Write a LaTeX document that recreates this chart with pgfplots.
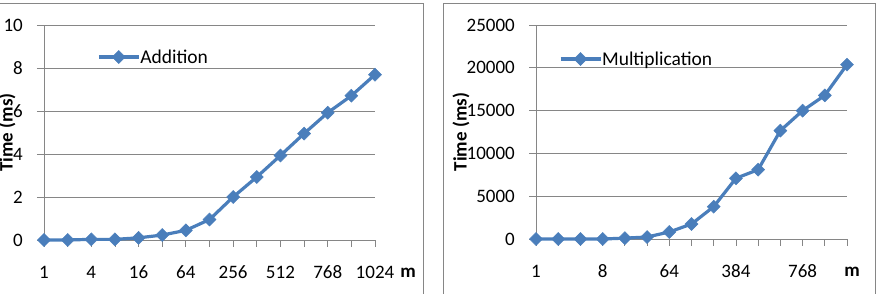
\documentclass[border=0pt]{standalone}
\usepackage{pgfplots}
\usepackage{pgfplotstable}
\pgfplotsset{compat=1.18}
\usepackage{fontspec}
\setmainfont{Carlito}
\definecolor{lineblue}{RGB}{74,126,187}
\definecolor{gridgray}{RGB}{134,134,134}
\definecolor{framegray}{RGB}{134,134,134}

\pgfplotstableread{
idx m t
0 1 0
1 2 0.0
2 4 0.03
3 8 0.03
4 16 0.1
5 32 0.23
6 64 0.45
7 128 0.95
8 256 2.0
9 384 2.93
10 512 3.93
11 640 4.95
12 768 5.92
13 896 6.71
14 1024 7.69
}\addtable

\pgfplotstableread{
idx m t
0 1 0
1 2 0
2 4 0
3 8 0
4 16 100
5 32 230
6 64 820
7 128 1750
8 256 3780
9 384 7090
10 512 8100
11 640 12660
12 768 14990
13 896 16780
14 1024 20370
}\multable

\pgfplotsset{
  myline/.style={color=lineblue, line width=3.2bp, mark=square*,
      mark size=4.6bp, mark options={rotate=45, fill=lineblue, draw=lineblue, line width=0.5bp}},
  mystyle/.style={
    scale only axis,
    clip=false,
    axis x line=bottom, axis y line=left,
    axis line style={-, draw=gridgray, line width=0.8bp},
    tick align=outside,
    major tick length=7bp,
    tick style={draw=gridgray, line width=0.8bp},
    ymajorgrids,
    grid style={draw=gridgray, line width=0.8bp},
    xmin=0, xmax=14, ymin=0,
    enlargelimits=false,
    xtick={0,...,14},
    scaled y ticks=false,
    ticklabel style={font=\fontsize{19bp}{22bp}\selectfont, inner sep=0pt},
    /pgf/number format/assume math mode=true,
    xticklabel style={anchor=base},
    xticklabel shift=31bp,
    yticklabel shift=14bp,
    legend style={draw=none, fill=none, inner sep=0pt, anchor=west,
      font=\fontsize{19.5bp}{22bp}\selectfont, nodes={inner sep=0pt},
      /tikz/every even column/.append style={column sep=0pt}},
    legend cell align=left,
    legend image code/.code={\draw[mark repeat=2,mark phase=2] plot coordinates {(0bp,0bp) (20bp,0bp) (40bp,0bp)};},
  }
}

\begin{document}
\begin{tikzpicture}
\useasboundingbox (0bp,0bp) rectangle (876bp,294bp);
\draw[framegray, line width=1bp] (-5bp,290bp) -- (423.5bp,290bp) -- (423.5bp,-5bp);
\draw[framegray, line width=1bp] (443.5bp,-5bp) -- (443.5bp,290bp) -- (875bp,290bp) -- (875bp,-5bp);

\begin{axis}[mystyle,
  at={(44bp,54bp)}, anchor=south west,
  width=331bp, height=215bp,
  ymax=10, ytick={0,2,...,10},
  xticklabels={1,,4,,16,,64,,256,,512,,768,,1024},
  legend style={at={(axis description cs:0.16,0.851)}},
]
\addplot[myline] table[x=idx, y=t] {\addtable};
\addlegendentry{Addition}
\node[anchor=base, font=\fontsize{19bp}{22bp}\selectfont\bfseries, inner sep=0pt] at ([xshift=33bp,yshift=-38bp]axis description cs:1,0) {m};
\node[rotate=90, anchor=center, font=\fontsize{19bp}{22bp}\selectfont\bfseries, inner sep=0pt] at ([xshift=-37bp]axis description cs:0,0.5) {Time (ms)};
\end{axis}

\begin{axis}[mystyle,
  at={(536bp,55bp)}, anchor=south west,
  width=311bp, height=214bp,
  ymax=25000, ytick={0,5000,...,25000},
  yticklabels={0,5000,10000,15000,20000,25000},
  xticklabels={1,,,8,,,64,,,384,,,768,,},
  legend style={at={(axis description cs:0.073,0.841)}},
]
\addplot[myline] table[x=idx, y=t] {\multable};
\addlegendentry{Multiplication}
\node[anchor=base, font=\fontsize{19bp}{22bp}\selectfont\bfseries, inner sep=0pt] at ([xshift=5bp,yshift=-37bp]axis description cs:1,0) {m};
\node[rotate=90, anchor=center, font=\fontsize{19bp}{22bp}\selectfont\bfseries, inner sep=0pt] at ([xshift=-75bp]axis description cs:0,0.5) {Time (ms)};
\end{axis}
\end{tikzpicture}
\end{document}
